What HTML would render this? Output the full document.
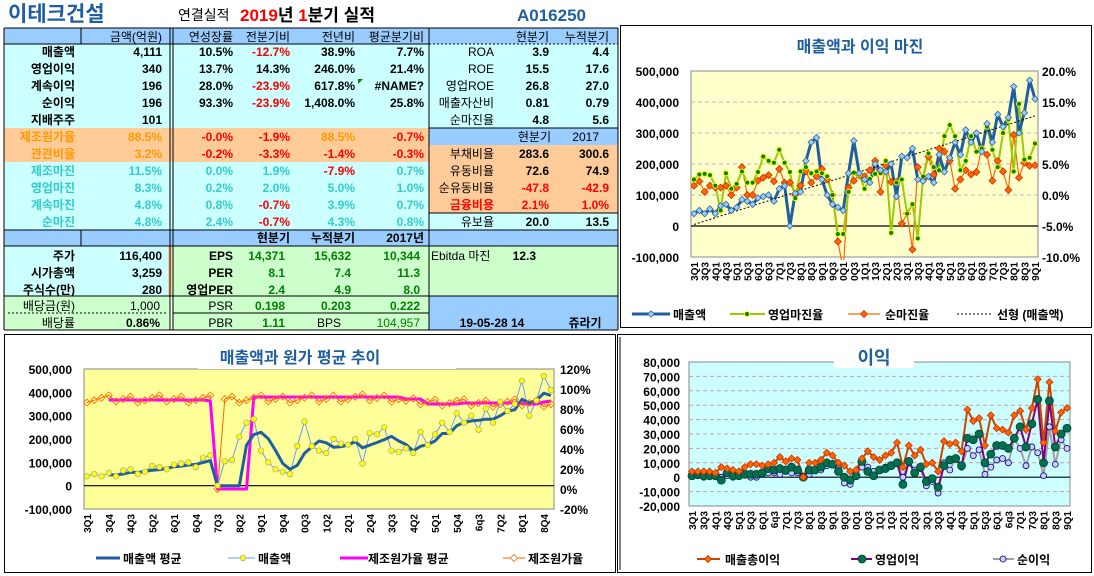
<!DOCTYPE html>
<html><head><meta charset="utf-8"><style>
html,body{margin:0;padding:0;background:#fff;}
svg{display:block;}
text{font-family:"Liberation Sans","Noto Sans CJK KR",sans-serif;}
</style></head><body>
<svg id="s" width="1094" height="576" xmlns="http://www.w3.org/2000/svg"></svg>
<script>
var S=document.getElementById('s'),h='';
function fmt(v){var s=String(Math.abs(v)).replace(/\B(?=(\d{3})+(?!\d))/g,',');return (v<0?'-':'')+s;}
function R(x,y,w,hh,f,st){h+='<rect x="'+x+'" y="'+y+'" width="'+w+'" height="'+hh+'" fill="'+f+'"'+(st?' '+st:'')+'/>';}
function L(x1,y1,x2,y2,c,w,d){h+='<line x1="'+x1+'" y1="'+y1+'" x2="'+x2+'" y2="'+y2+'" stroke="'+c+'" stroke-width="'+(w||1)+'"'+(d?' stroke-dasharray="'+d+'"':'')+'/>';}
function T(x,y,s,o){o=o||{};h+='<text x="'+x+'" y="'+y+'" font-size="'+(o.fs||12)+'" font-weight="'+(o.fw||'bold')+'" fill="'+(o.c||'#000')+'" text-anchor="'+(o.a||'end')+'"'+(o.tr?' transform="'+o.tr+'"':'')+'>'+s+'</text>';}
var B='#99ccff',C='#ccffff',O='#ffcc99',G='#ccffcc';
R(4,28,425,16,B);R(429,28,189,16,B);
R(4,44,425,84,C);R(429,44,189,84,C);
R(4,128,425,34,O);R(429,128,189,17,B);R(429,145,189,68,O);
R(4,162,425,68,C);R(429,213,189,17,C);
R(4,230,614,16,B);
R(4,246,166,50,C);R(168,246,4,50,O);R(172,246,257,50,G);R(429,246,189,50,G);
R(4,296,166,34,G);R(172,296,257,34,G);R(429,296,189,34,B);
L(4,28,618,28,'#000');L(4,28,4,330,'#000');L(4,330,618,330,'#000');L(618,28,618,330,'#000');
L(81,28,81,44,'#000');L(81,230,81,246,'#000');
L(170,28,170,330,'#000');L(173,28,173,330,'#000');
L(429,28,429,330,'#000');L(4,44,429,44,'#000');
L(429,44,618,44,'#000',1,'2,2');
L(4,230,618,230,'#000');L(4,246,618,246,'#000');L(4,296,618,296,'#000');
L(173,313,429,313,'#000');L(8,313,168,313,'#000',1,'2,2');
L(429,128,618,128,'#000');L(429,213,618,213,'#000');
T(8,21,'이테크건설',{fs:21,c:'#1f5fa0',a:'start'});
T(178,20,'연결실적',{fs:14,fw:'normal',a:'start'});
h+='<text x="240" y="21" font-size="17" font-weight="bold" fill="#000"><tspan fill="#ff0000">2019</tspan>년 <tspan fill="#ff0000">1</tspan>분기 실적</text>';
T(517,21,'A016250',{fs:17,c:'#1f5fa0',a:'start'});
var hn={fw:'normal'};
T(162,41,'금액(억원)',hn);T(233,41,'연성장률',hn);T(290,41,'전분기비',hn);T(355,41,'전년비',hn);T(424,41,'평균분기비',hn);
T(549,41,'현분기',hn);T(609,41,'누적분기',hn);
var rows=[
[56,'매출액','4,111',['10.5%','-12.7%','38.9%','7.7%'],[0,1,0,0],'ROA','3.9','4.4'],
[73,'영업이익','340',['13.7%','14.3%','246.0%','21.4%'],[0,0,0,0],'ROE','15.5','17.6'],
[90,'계속이익','196',['28.0%','-23.9%','617.8%','#NAME?'],[0,1,0,0],'영업ROE','26.8','27.0'],
[107,'순이익','196',['93.3%','-23.9%','1,408.0%','25.8%'],[0,1,0,0],'매출자산비','0.81','0.79'],
[124,'지배주주','101',null,null,'순마진율','4.8','5.6']];
var rc=[233,290,355,424];
rows.forEach(function(r){T(75,r[0],r[1]);T(162,r[0],r[2]);if(r[3])r[3].forEach(function(v,i){T(rc[i],r[0],v,{c:r[4][i]?'#ff0000':'#000'});});
T(494,r[0],r[5],{fw:'normal'});T(549,r[0],r[6]);T(609,r[0],r[7]);});
h+='<path d="M358 79 l5 0 l-5 5z" fill="#008000"/>';
var OR='#ff9900';
T(75,141,'제조원가율',{c:OR});T(162,141,'88.5%',{c:OR});T(233,141,'-0.0%',{c:'#ff0000'});T(290,141,'-1.9%',{c:'#ff0000'});T(355,141,'88.5%',{c:OR});T(424,141,'-0.7%',{c:'#ff0000'});
T(75,158,'관관비율',{c:OR});T(162,158,'3.2%',{c:OR});T(233,158,'-0.2%',{c:'#ff0000'});T(290,158,'-3.3%',{c:'#ff0000'});T(355,158,'-1.4%',{c:'#ff0000'});T(424,158,'-0.3%',{c:'#ff0000'});
T(551,141,'현분기',hn);T(599,141,'2017',hn);
var TE='#33cccc';
[[175,'제조마진','11.5%','0.0%','1.9%','-7.9%','0.7%'],[192,'영업마진','8.3%','0.2%','2.0%','5.0%','1.0%'],[209,'계속마진','4.8%','0.8%','-0.7%','3.9%','0.7%'],[226,'순마진','4.8%','2.4%','-0.7%','4.3%','0.8%']].forEach(function(r){
T(75,r[0],r[1],{c:TE});T(162,r[0],r[2],{c:TE});for(var i=0;i<4;i++){var v=r[3+i];T(rc[i],r[0],v,{c:v[0]=='-'?'#ff0000':TE});}});
[[158,'부채비율','283.6','300.6',0],[175,'유동비율','72.6','74.9',0],[192,'순유동비율','-47.8','-42.9',1],[209,'금융비용','2.1%','1.0%',2],[226,'유보율','20.0','13.5',0]].forEach(function(r){
T(494,r[0],r[1],{fw:r[4]==2?'bold':'normal',c:r[4]==2?'#ff0000':'#000'});T(549,r[0],r[2],{c:r[4]?'#ff0000':'#000'});T(609,r[0],r[3],{c:r[4]?'#ff0000':'#000'});});
T(290,242,'현분기');T(355,242,'누적분기');T(424,242,'2017년');
var GR='#008000';
[[260,'주가','116,400','EPS','14,371','15,632','10,344'],[277,'시가총액','3,259','PER','8.1','7.4','11.3'],[294,'주식수(만)','280','영업PER','2.4','4.9','8.0']].forEach(function(r){
T(75,r[0],r[1]);T(162,r[0],r[2]);T(233,r[0],r[3]);T(285,r[0],r[4],{c:GR});T(351,r[0],r[5],{c:GR});T(420,r[0],r[6],{c:GR});});
T(431,260,'Ebitda 마진',{fw:'normal',a:'start'});T(536,260,'12.3');
T(75,310,'배당금(원)',{fw:'normal'});T(160,310,'1,000',{fw:'normal'});T(233,310,'PSR',{fw:'normal'});T(285,310,'0.198',{c:GR});T(351,310,'0.203',{c:GR});T(420,310,'0.222',{c:GR});
T(75,327,'배당률',{fw:'normal'});T(160,327,'0.86%');T(233,327,'PBR',{fw:'normal'});T(285,327,'1.11',{c:GR});T(317,327,'BPS',{fw:'normal',a:'start'});T(420,327,'104,957',{fw:'normal',c:GR});
T(492,327,'19-05-28 14',{a:'middle'});T(585,327,'쥬라기',{a:'middle'});

var sales=[40,50,40,55,40,65,70,50,60,85,80,70,90,95,100,80,120,130,0,105,110,210,270,285,150,100,70,60,50,170,275,170,150,140,200,180,175,200,95,225,220,250,150,145,160,140,230,175,220,270,230,310,270,300,240,330,270,360,320,350,450,300,365,470,410];
var opm=[2.5,3.3,3.4,3.2,1.5,-2.5,3.5,1,1.8,3.8,2,2,3.7,6.2,5.5,5.2,7.3,5.2,3.7,-0.5,3.8,4.5,3.5,3.8,3.5,3,0,-6.3,-6.3,0.5,3.6,3.3,1,2.6,3.4,3.5,5.5,-6.1,2,2.5,-3,-1.5,-7,3,6.7,4.5,4,9.5,11.3,9.5,4,5.5,9.5,7,7.5,11,7.3,4.5,10,12.2,3.8,14.7,5.7,6,8.3];
var npm=[1.5,2.2,0.5,1.5,1.2,1.2,1.5,0,1.2,4.5,0,0,2.3,2.8,3.2,2.2,4.2,2,2,0,1.5,3.8,2,3,4.2,2.5,0,-7.5,-12,1.2,2.3,3.2,3,4,5.5,0.5,4.8,2.1,2.1,-4.6,-3,-8.8,4.5,2.5,6.2,3.3,7.5,7,5.5,1,2.5,4,3.3,3.7,7.5,6.5,2.3,5.5,3.8,0.8,9.7,2.8,5.2,4.7,4.8];
var gross=[4,4,4,4,3,7,6,5,4,7,9,9,8,9,10,14,11,13,12,0,10,10,12,17,15,10,8,4,5,13,18,14,12,15,17,24,7,22,15,19,9,10,4,25,23,24,18,47,39,41,22,43,34,33,31,43,46,33,48,68,24,66,32,45,48];
var op=[1,2,1,1,1,-2,3,1,1,2,2,2,3,6,5,6,5,7,5,0,5,5,7,10,9,4,0,-2,1,11,4,1,5,6,8,10,-5,11,3,7,-3,-1,-7,8,12,13,8,27,26,30,10,16,22,22,20,27,35,21,37,54,10,53,21,30,34];
var net=[1,1,0,1,1,0,1,0,1,3,0,0,2,3,3,2,4,3,3,0,2,5,5,8,9,6,-4,-5,2,7,7,4,5,7,8,10,0,10,5,6,-6,-3,-11,10,5,13,7,20,15,19,2,7,12,13,10,27,20,8,21,17,1,35,9,26,20];
function pl(xs,ys,c,w){var p=xs.map(function(x,i){return x.toFixed(1)+','+ys[i].toFixed(1)}).join(' ');h+='<polyline points="'+p+'" fill="none" stroke="'+c+'" stroke-width="'+w+'" stroke-linejoin="round"/>';}
function dia(x,y,r,f,s){h+='<path d="M'+x+' '+(y-r)+'L'+(x+r)+' '+y+'L'+x+' '+(y+r)+'L'+(x-r)+' '+y+'Z" fill="'+f+'" stroke="'+s+'" stroke-width="0.8"/>';}
function cir(x,y,r,f,s,w){h+='<circle cx="'+x+'" cy="'+y+'" r="'+r+'" fill="'+f+'" stroke="'+s+'" stroke-width="'+(w||0.8)+'"/>';}
function xsF(n,x0,x1){var a=[];for(var i=0;i<n;i++)a.push(x0+(x1-x0)*i/(n-1));return a;}
function qlab(i){var y=3+Math.floor(i/4),q=i%4+1;return (y%10)+'Q'+q;}

// CHART 1
h+='<rect x="620.5" y="25.5" width="471" height="302" fill="#fff" stroke="#000"/>';
T(860,52,'매출액과 이익 마진',{fs:16,c:'#1f5fa0',a:'middle'});
var X0=691,X1=1038,Y0=71,Y1=257;
R(X0,Y0,X1-X0,Y1-Y0,'#ffffcc','stroke="#888"');
function y1l(v){return Y0+(500-v)/600*(Y1-Y0);} function y1r(p){return Y0+(20-p)/30*(Y1-Y0);}
[400,300,200,100].forEach(function(v){L(X0,y1l(v),X1,y1l(v),'#bbb',1,'4,3');});
L(X0,y1l(0),X1,y1l(0),'#000',1.2);
for(var v=500;v>=-100;v-=100){T(679,y1l(v)+5,fmt(v*1000),{fs:12});}
for(var p=20;p>=-10;p-=5){T(1042,y1r(p)+5,p.toFixed(1)+'%',{fs:12,a:'start'});}
var xs=xsF(65,X0+3,X1-3);
for(var i=0;i<65;i+=2){var lb=qlab(i);T(xs[i]+4,262,lb,{fs:10,tr:'rotate(-90 '+(xs[i]+4)+' 262)'});}
h+='<defs><clipPath id="c1"><rect x="'+X0+'" y="'+Y0+'" width="'+(X1-X0)+'" height="'+(Y1-Y0+3)+'"/></clipPath></defs><g clip-path="url(#c1)">';
pl(xs,npm.map(y1r),'#ff6600',1.2);
pl(xs,opm.map(y1r),'#99cc00',2);
pl(xs,sales.map(y1l),'#1f5fa0',3);
L(X0+3,y1l(5),X1-3,y1l(355),'#000',1,'2,2');
xs.forEach(function(x,i){dia(x,y1r(npm[i]),3.5,'#ff6600','#cc3300');});
xs.forEach(function(x,i){cir(x,y1r(opm[i]),2.5,'#008000','#ffff00',1);});
xs.forEach(function(x,i){dia(x,y1l(sales[i]),3.2,'#99ccff','#336699');});
h+='</g>';
L(632,314,670,314,'#1f5fa0',3);dia(651,314,3.2,'#99ccff','#336699');T(673,319,'매출액',{fs:12,a:'start'});
L(730,314,765,314,'#99cc00',2);cir(747,314,2.5,'#008000','#ffff00',1);T(768,319,'영업마진율',{fs:12,a:'start'});
L(848,314,880,314,'#ff6600',1.2);dia(864,314,3.5,'#ff6600','#cc3300');T(885,319,'순마진율',{fs:12,a:'start'});
L(957,314,993,314,'#000',1,'2,2');T(997,319,'선형 (매출액)',{fs:12,a:'start'});

// CHART 2
h+='<rect x="4.5" y="334.5" width="611" height="238" fill="#fff" stroke="#000"/>';
var A0=84,A1=554,B0=369,B1=509;
R(A0,B0,A1-A0,B1-B0,'#ffff99','stroke="#888"');
function y2l(v){return B0+(500-v)/600*(B1-B0);} function y2r(p){return B0+(120-p)/140*(B1-B0);}
L(A0,y2l(0),A1,y2l(0),'#000',1.2);
for(var v=500;v>=-100;v-=100){T(72,y2l(v)+5,fmt(v*1000),{fs:12});}
for(var p=120;p>=-20;p-=20){T(560,y2r(p)+5,p+'%',{fs:12,a:'start'});}
var xs2=xsF(65,A0+3,A1-3);
var l2=['3Q1','3Q4','4Q3','5Q2','6Q1','6Q4','7Q3','8Q2','9Q1','9Q4','0Q3','1Q2','2Q1','2Q4','3Q3','4Q2','5Q1','5Q4','6q3','7Q2','8Q1','8Q4'];
l2.forEach(function(s,k){var x=xs2[k*3]+4;T(x,514,s,{fs:10,tr:'rotate(-90 '+x+' 514)'});});
var avg=[];for(var i=0;i<65;i++){if(i<3)avg.push(null);else{avg.push((sales[i]+sales[i-1]+sales[i-2]+sales[i-3])/4);}}
for(i=18;i<22;i++)avg[i]=0;
var cost=[],cavg=[];
for(i=0;i<65;i++){var base=i<34?90:(i<44?91:(i<52?87:86));cost.push(base+((i*37)%7-3)*1.2);}
cost[18]=0;
for(i=0;i<65;i++){var b=i<17?89:(i<18?88:(i<23?0:(i<47?(i<44?92:90):(i<52?85:(i<61?86:85)))));cavg.push(b);}
cavg[63]=87;cavg[64]=88;
var ax=[],ay=[];for(i=3;i<65;i++){ax.push(xs2[i]);ay.push(y2l(avg[i]));}
var cx=[],cy=[];for(i=3;i<65;i++){cx.push(xs2[i]);cy.push(y2r(cavg[i]));}
pl(xs2,cost.map(y2r),'#ff6600',1);
pl(xs2,sales.map(y2l),'#6699ff',1);
pl(cx,cy,'#ff00ff',3);
pl(ax,ay,'#1f5fa0',3);
xs2.forEach(function(x,i){dia(x,y2r(cost[i]),3.5,'none','#ff6600');cir(x,y2l(sales[i]),2.8,'#ffff00','#999',0.6);});
R(198,345,258,24,'#fff');
T(300,363,'매출액과 원가 평균 추이',{fs:16,c:'#1f5fa0',a:'middle'});
L(96,558,120,558,'#1f5fa0',3);T(123,563,'매출액 평균',{fs:12,a:'start'});
L(228,558,255,558,'#6699ff',1);cir(243,558,2.8,'#ffff00','#999',0.6);T(258,563,'매출액',{fs:12,a:'start'});
L(340,558,368,558,'#ff00ff',3);T(368,563,'제조원가율 평균',{fs:12,a:'start'});
L(503,558,525,558,'#ff6600',1);dia(514,558,3.5,'#fff','#ff6600');T(528,563,'제조원가율',{fs:12,a:'start'});

// CHART 3
h+='<rect x="617.5" y="334.5" width="474" height="238" fill="#fff" stroke="#000"/>';
L(620,337,620,570,'#000');
var P0=689,P1=1070,Q0=362,Q1=506;
R(P0,Q0,P1-P0,Q1-Q0,'#ccffff','stroke="#888"');
function y3(v){return Q0+(80-v)/100*(Q1-Q0);}
for(var v=70;v>=-10;v-=10){if(v)L(P0,y3(v),P1,y3(v),'#c9a0a0',1,'4,3');}
L(P0,y3(0),P1,y3(0),'#000',1.2);
for(var v=80;v>=-20;v-=10){T(680,y3(v)+5,fmt(v*1000),{fs:12});}
var xs3=xsF(65,P0+3,P1-3);
for(i=0;i<65;i+=2){var lb=qlab(i);if(lb=='6Q3')lb='6q3';T(xs3[i]+4,511,lb,{fs:10,tr:'rotate(-90 '+(xs3[i]+4)+' 511)'});}
pl(xs3,net.map(y3),'#a0a0a0',2);
pl(xs3,op.map(y3),'#800080',2);
pl(xs3,gross.map(y3),'#cc4400',2);
xs3.forEach(function(x,i){cir(x,y3(net[i]),3,'#ccccff','#000080',0.8);});
xs3.forEach(function(x,i){cir(x,y3(op[i]),4,'#007050','#004030',0.8);});
xs3.forEach(function(x,i){dia(x,y3(gross[i]),3.5,'#ff6600','#cc3300');});
R(834,345,80,23,'#fff');
T(874,364,'이익',{fs:18,c:'#1f5fa0',a:'middle'});
L(697,559,720,559,'#cc4400',2);dia(708,559,3.5,'#ff6600','#cc3300');T(725,564,'매출총이익',{fs:12,a:'start'});
L(851,559,872,559,'#800080',2);cir(862,559,4,'#007050','#004030');T(875,564,'영업이익',{fs:12,a:'start'});
L(993,559,1014,559,'#a0a0a0',2);cir(1003,559,3,'#ccccff','#000080');T(1017,564,'순이익',{fs:12,a:'start'});
S.innerHTML=h;
</script>
</body></html>
